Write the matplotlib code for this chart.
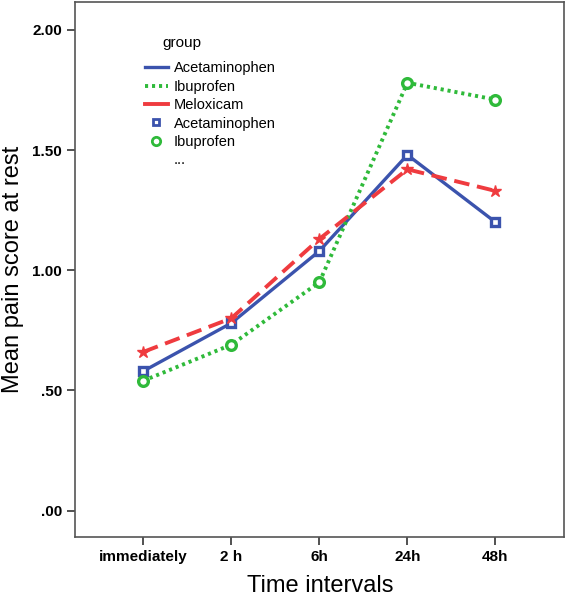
import matplotlib.pyplot as plt
from matplotlib.lines import Line2D

plt.rcParams['font.family'] = ['Liberation Sans', 'DejaVu Sans']

times = ["immediately", "2 h", "6h", "24h", "48h"]
acetaminophen = [0.58, 0.78, 1.08, 1.48, 1.20]
ibuprofen = [0.54, 0.69, 0.95, 1.78, 1.71]
meloxicam = [0.66, 0.80, 1.13, 1.42, 1.33]
yticks = [0.0, 0.5, 1.0, 1.5, 2.0]
ytick_labels = [".00", ".50", "1.00", "1.50", "2.00"]

blue = "#3b53ad"
green = "#2fba3a"
red = "#ef3b3f"

fig = plt.figure(figsize=(5.67, 6.0), dpi=100)
ax = fig.add_axes([0.133, 0.105, 0.862, 0.892])

x = list(range(len(times)))
ax.plot(x, acetaminophen, color=blue, lw=2.4, ls='-', marker='s', ms=6,
        mfc='white', mec=blue, mew=2.4)
ax.plot(x, ibuprofen, color=green, lw=2.8, ls=(0, (0.8, 1.0)), marker='o', ms=7,
        mfc='white', mec=green, mew=2.4)
ax.plot(x, meloxicam, color=red, lw=2.8, ls=(0, (4, 2)), marker='*', ms=9,
        mfc=red, mec=red)

ax.set_xlim(-0.77, 4.78)
ax.set_ylim(-0.11, 2.117)
ax.set_xticks(x)
ax.set_xticklabels(times, fontweight='bold', fontsize=11)
ax.set_yticks(yticks)
ax.set_yticklabels(ytick_labels, fontweight='bold', fontsize=11)
ax.tick_params(length=6, width=1.2, color='#333333')
for s in ax.spines.values():
    s.set_color('#555555')
    s.set_linewidth(1.2)

ax.set_xlabel("Time intervals", fontsize=17, labelpad=8)
ax.set_ylabel("Mean pain score at rest", fontsize=17, labelpad=6)

handles = [
    Line2D([], [], color=blue, lw=2.4),
    Line2D([], [], color=green, lw=2.8, ls=(0, (0.8, 1.0))),
    Line2D([], [], color=red, lw=2.8),
    Line2D([], [], color=blue, ls='none', marker='s', ms=5, mfc='white', mec=blue, mew=2),
    Line2D([], [], color=green, ls='none', marker='o', ms=6, mfc='white', mec=green, mew=2),
    Line2D([], [], color='none', ls='none'),
]
labels = ["Acetaminophen", "Ibuprofen", "Meloxicam", "Acetaminophen", "Ibuprofen", "..."]
leg = ax.legend(handles, labels, title="group", loc='upper left',
                bbox_to_anchor=(0.115, 0.96), frameon=False, fontsize=10.5,
                title_fontsize=11, handlelength=1.6, handletextpad=0.4,
                labelspacing=0.3)
leg._legend_box.align = "left"
leg.get_title().set_position((18, 0))
leg._legend_box.sep = 8

fig.savefig("out.png", dpi=100)
